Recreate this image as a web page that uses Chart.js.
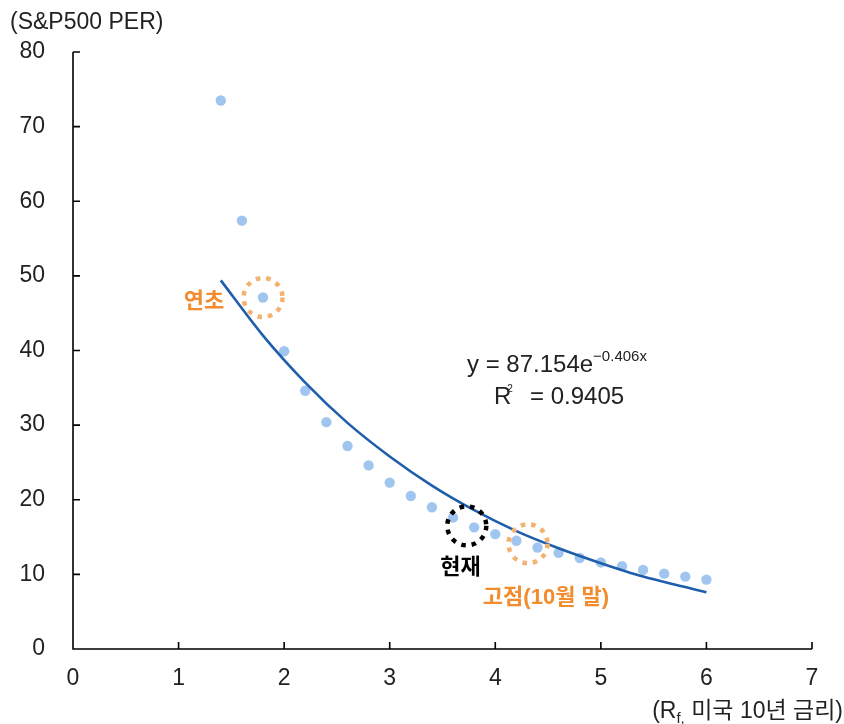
<!DOCTYPE html>
<html>
<head>
<meta charset="utf-8">
<script src="https://cdn.jsdelivr.net/npm/chart.js@4.4.1/dist/chart.umd.min.js"></script>
<style>
  html, body { margin: 0; padding: 0; background: #fff; }
</style>
</head>
<body>
<canvas id="perChart" width="844" height="724"></canvas>
<script>
// 미국 10년 금리 (x) vs S&P500 PER (y)
const rates = [1.4, 1.6, 1.8, 2.0, 2.2, 2.4, 2.6, 2.8, 3.0, 3.2, 3.4, 3.6,
               3.8, 4.0, 4.2, 4.4, 4.6, 4.8, 5.0, 5.2, 5.4, 5.6, 5.8, 6.0];
const per = [73.5, 57.4, 47.1, 39.9, 34.6, 30.4, 27.2, 24.6, 22.3, 20.5, 19.0, 17.6,
             16.3, 15.4, 14.5, 13.6, 12.9, 12.2, 11.6, 11.1, 10.6, 10.1, 9.7, 9.3];

// trend line
const trendRates = [1.4, 1.8, 2.2, 2.6, 3.0, 3.4, 3.8, 4.2, 4.6, 5.0, 5.4, 5.8, 6.0];
const trendPer = [49.4, 42.0, 35.7, 30.3, 25.8, 21.9, 18.6, 15.8, 13.5, 11.5, 9.7, 8.3, 7.6];

const xTicks = [0, 1, 2, 3, 4, 5, 6, 7];
const yTicks = [0, 10, 20, 30, 40, 50, 60, 70, 80];

// circles + labels (in data units)
const circles = [
  {x: 1.8, y: 47.1, color: '#F4B170'},
  {x: 3.73, y: 16.5, color: '#000000'},
  {x: 4.31, y: 14.1, color: '#F4B170'}
];
const labels = [
  {text: '연초', x: 1.24, y: 46.5, color: '#F28C2E'},
  {text: '현재', x: 3.67, y: 10.9, color: '#000000'},
  {text: '고점(10월 말)', x: 4.48, y: 6.9, color: '#F28C2E'}
];

const FONT = '"Liberation Sans", "Noto Sans CJK KR", sans-serif';

const extras = {
  id: 'extras',
  afterDraw(chart) {
    const ctx = chart.ctx;
    const xs = chart.scales.x, ys = chart.scales.y;
    const x0 = xs.getPixelForValue(0), y0 = ys.getPixelForValue(0);
    ctx.save();

    // axis lines + inward ticks
    ctx.strokeStyle = '#000';
    ctx.lineWidth = 1.6;
    ctx.beginPath();
    ctx.moveTo(x0, ys.getPixelForValue(80));
    ctx.lineTo(x0, y0);
    ctx.lineTo(xs.getPixelForValue(7), y0);
    yTicks.forEach(v => {
      const py = ys.getPixelForValue(v);
      ctx.moveTo(x0, py); ctx.lineTo(x0 + 7, py);
    });
    xTicks.forEach(v => {
      const px = xs.getPixelForValue(v);
      ctx.moveTo(px, y0); ctx.lineTo(px, y0 - 7);
    });
    ctx.stroke();

    // dotted circles
    ctx.lineWidth = 4.5;
    ctx.setLineDash([4.5, 6]);
    circles.forEach(c => {
      ctx.strokeStyle = c.color;
      ctx.beginPath();
      ctx.arc(xs.getPixelForValue(c.x), ys.getPixelForValue(c.y), 19.5, 0, Math.PI * 2);
      ctx.stroke();
    });
    ctx.setLineDash([]);

    // labels
    ctx.textAlign = 'center';
    ctx.textBaseline = 'middle';
    ctx.font = 'bold 22px ' + FONT;
    labels.forEach(l => {
      ctx.fillStyle = l.color;
      ctx.fillText(l.text, xs.getPixelForValue(l.x), ys.getPixelForValue(l.y));
    });

    // equation
    ctx.fillStyle = '#222';
    ctx.textAlign = 'left';
    ctx.textBaseline = 'alphabetic';
    ctx.font = '24px ' + FONT;
    let ex = 467, ey = 372;
    const main = 'y = 87.154e';
    ctx.fillText(main, ex, ey);
    ex += ctx.measureText(main).width;
    ctx.font = '15px ' + FONT;
    ctx.fillText('\u22120.406x', ex, ey - 11);

    let rx = 494, ry = 404;
    ctx.font = '24px ' + FONT;
    ctx.fillText('R', rx, ry);
    rx += ctx.measureText('R').width;
    ctx.font = '10px ' + FONT;
    ctx.fillText('2', rx - 4, ry - 12);
    ctx.font = '24px ' + FONT;
    ctx.fillText('= 0.9405', 530, ry);

    // axis titles
    ctx.font = '23px ' + FONT;
    ctx.fillText('(S&P500 PER)', 10, 29);
    ctx.textAlign = 'right';
    const tail = ' 미국 10년 금리)';
    let tx = 843, ty = 718;
    ctx.fillText(tail, tx, ty);
    tx -= ctx.measureText(tail).width;
    ctx.font = '15px ' + FONT;
    ctx.fillText('f,', tx, ty + 5);
    tx -= ctx.measureText('f,').width;
    ctx.font = '23px ' + FONT;
    ctx.fillText('(R', tx, ty);

    ctx.restore();
  }
};

new Chart(document.getElementById('perChart').getContext('2d'), {
  type: 'scatter',
  data: {
    datasets: [
      {
        label: 'trend',
        type: 'line',
        data: trendRates.map((r, i) => ({x: r, y: trendPer[i]})),
        borderColor: '#1F5EAA',
        borderWidth: 2.6,
        pointRadius: 0,
        cubicInterpolationMode: 'monotone',
        fill: false,
        order: 0
      },
      {
        label: 'PER',
        data: rates.map((r, i) => ({x: r, y: per[i]})),
        backgroundColor: '#A0C6EF',
        borderWidth: 0,
        pointRadius: 5.2,
        order: 1
      }
    ]
  },
  options: {
    responsive: false,
    animation: false,
    devicePixelRatio: 1,
    layout: {padding: {left: 0, top: 52, right: 32, bottom: 0}},
    plugins: {
      legend: {display: false},
      tooltip: {enabled: false}
    },
    scales: {
      x: {
        type: 'linear',
        min: 0, max: 7,
        grid: {display: false},
        border: {display: false},
        ticks: {stepSize: 1, padding: 8, color: '#222', font: {family: FONT, size: 23}},
        afterFit: s => { s.height = 75; }
      },
      y: {
        min: 0, max: 80,
        grid: {display: false},
        border: {display: false},
        ticks: {stepSize: 10, padding: 20, color: '#222', font: {family: FONT, size: 23}},
        afterFit: s => { s.width = 73; }
      }
    }
  },
  plugins: [extras]
});
</script>
</body>
</html>
